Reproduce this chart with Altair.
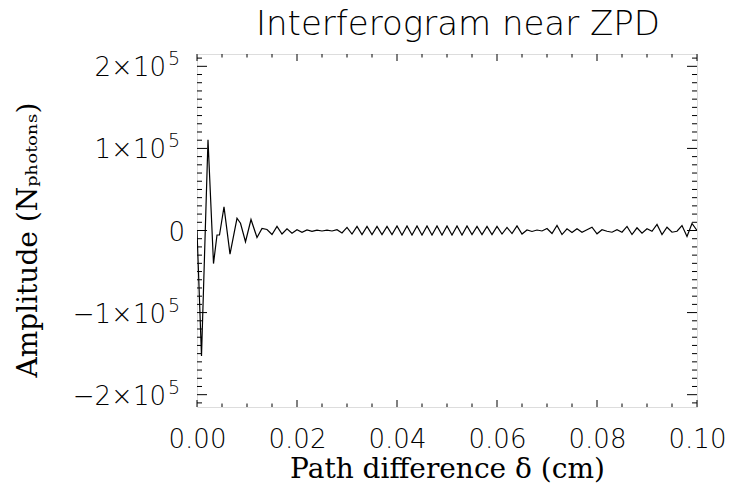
import altair as alt
import pandas as pd

# ---- data (path difference in cm, amplitude in photons) ----
head_x = [0.0, 0.0009, 0.0022, 0.0033, 0.0040, 0.0045, 0.0054, 0.0066, 0.0080, 0.0087, 0.0097, 0.0108]
head_y = [0, -153000, 110400, -40300, -5500, -5500, 28700, -28700, 14900, 8800, -13700, 13400]

tail_start = 0.012
tail_step = 0.001
tail_y = [
    -8500, 2400, 1200, -4900, 4900, -4300, 2100, -3300, 900, -2100,
    600, -1000, 400, -600, 400, -600, 1000, -3000, 3700, -4300,
    4900, -4900, 4900, -4900, 4900, -4900, 4900, -4900, 5500, -5500,
    5500, -5500, 5500, -5500, 5500, -5500, 5500, -5500, 5500, -5500,
    5500, -5500, 5500, -4900, 4900, -4900, 4900, -4900, 4900, -4300,
    3700, -3700, 5500, -4300, 600, -1200, 600, -600, 2400, -3700,
    6100, -4900, 2100, -2400, 2100, -2100, 900, 4000, -4000, 900,
    -900, -2100, 900, -2100, 4900, -4900, 3300, -3300, 2100, -900,
    7300, -4900, 4000, -2100, -900, 6100, -7300, 8500, 0,
]
tail_x = [round(tail_start + tail_step * k, 4) for k in range(len(tail_y))]

xs = head_x + tail_x
ys = head_y + tail_y

title_text = "Interferogram near ZPD"
x_title = "Path difference δ  (cm)"
y_title = "Amplitude (N\u209a\u2095\u2092\u209c\u2092\u2099\u209b)"

x_major = [0.0, 0.02, 0.04, 0.06, 0.08, 0.10]
x_minor = [round(0.005 * i, 3) for i in range(21) if i % 4 != 0]
y_major = [-200000, -100000, 0, 100000, 200000]
y_minor = [10000 * i for i in range(-21, 22) if i % 10 != 0]

# y tick labels: mantissa part and exponent
pow_vals = [200000, 100000, -100000, -200000]
pow_main = ["2\u00d710", "1\u00d710", "\u22121\u00d710", "\u22122\u00d710"]
pow_exp = ["5", "5", "5", "5"]
zero_vals = [0]
zero_text = ["0"]

W, H = 500, 353
XDOM = [0, 0.1]
YDOM = [-215000, 215000]

df = pd.DataFrame({"x": xs, "y": ys})

xscale = alt.Scale(domain=XDOM, nice=False, zero=False)
yscale = alt.Scale(domain=YDOM, nice=False, zero=False)

sans = "DejaVu Sans"
serif = "DejaVu Serif"

x_axis = alt.Axis(
    values=x_major,
    format=".2f",
    ticks=False,
    tickSize=0,
    domain=False,
    grid=False,
    labelFont=sans,
    labelFontWeight=200,
    labelFontSize=26,
    labelColor="black",
    labelPadding=19,
    labelFlush=False,
    labelOverlap=False,
    title=x_title,
    titleFont=serif,
    titleFontWeight="normal",
    titleFontSize=28,
    titleColor="black",
    titlePadding=3,
)

y_axis = alt.Axis(
    values=y_major,
    labels=False,
    ticks=False,
    tickSize=0,
    domain=False,
    grid=False,
    title=y_title,
    titleFont=serif,
    titleFontWeight="normal",
    titleFontSize=28,
    titleColor="black",
    titleAngle=270,
    titleX=-169,
    titleY=H / 2 + 9,
    titleAlign="center",
    titleBaseline="middle",
)

line = alt.Chart(df).mark_line(color="black", strokeWidth=1.2, clip=True).encode(
    x=alt.X("x:Q", scale=xscale, axis=x_axis),
    y=alt.Y("y:Q", scale=yscale, axis=y_axis),
)


def xticks(vals, length):
    d = pd.DataFrame({"x": vals})
    base = alt.Chart(d).mark_rule(color="black", strokeWidth=1)
    bottom = base.encode(
        x=alt.X("x:Q", scale=xscale, axis=x_axis),
        y=alt.value(H), y2=alt.value(H - length),
    )
    top = base.encode(
        x=alt.X("x:Q", scale=xscale, axis=x_axis),
        y=alt.value(0), y2=alt.value(length),
    )
    return [bottom, top]


def yticks(vals, length):
    d = pd.DataFrame({"y": vals})
    base = alt.Chart(d).mark_rule(color="black", strokeWidth=1)
    left = base.encode(
        y=alt.Y("y:Q", scale=yscale, axis=y_axis),
        x=alt.value(0), x2=alt.value(length),
    )
    right = base.encode(
        y=alt.Y("y:Q", scale=yscale, axis=y_axis),
        x=alt.value(W), x2=alt.value(W - length),
    )
    return [left, right]


lab_df = pd.DataFrame({"y": pow_vals, "main": pow_main, "exp": pow_exp})
main_labels = alt.Chart(lab_df).mark_text(
    font=sans, fontWeight=200, fontSize=26, color="black",
    align="right", baseline="middle", dy=2,
).encode(
    y=alt.Y("y:Q", scale=yscale, axis=y_axis),
    x=alt.value(-31),
    text="main:N",
)
exp_labels = alt.Chart(lab_df).mark_text(
    font=sans, fontWeight=200, fontSize=19, color="black",
    align="left", baseline="middle", dy=-7,
).encode(
    y=alt.Y("y:Q", scale=yscale, axis=y_axis),
    x=alt.value(-29),
    text="exp:N",
)
zero_df = pd.DataFrame({"y": zero_vals, "t": zero_text})
zero_label = alt.Chart(zero_df).mark_text(
    font=sans, fontWeight=200, fontSize=26, color="black",
    align="right", baseline="middle", dy=2,
).encode(
    y=alt.Y("y:Q", scale=yscale, axis=y_axis),
    x=alt.value(-12),
    text="t:N",
)

title_df = pd.DataFrame({"t": [title_text]})
title_mark = alt.Chart(title_df).mark_text(
    font=sans, fontWeight=200, fontSize=34, color="black",
    align="center", baseline="alphabetic",
).encode(
    x=alt.value(W / 2 + 11),
    y=alt.value(-19),
    text="t:N",
)

layers = (
    [line]
    + xticks(x_major, 7) + xticks(x_minor, 3.5)
    + yticks(y_major, 10) + yticks(y_minor, 5)
    + [main_labels, exp_labels, zero_label, title_mark]
)

chart = alt.layer(*layers).properties(
    width=W,
    height=H,
    autosize=alt.AutoSizeParams(type="none"),
    padding={"left": 189, "top": 46, "right": 28, "bottom": 80},
).configure_view(stroke="black", strokeWidth=1).configure(background="white")

chart.save("out.html", embed_options={"renderer": "svg", "actions": False})
